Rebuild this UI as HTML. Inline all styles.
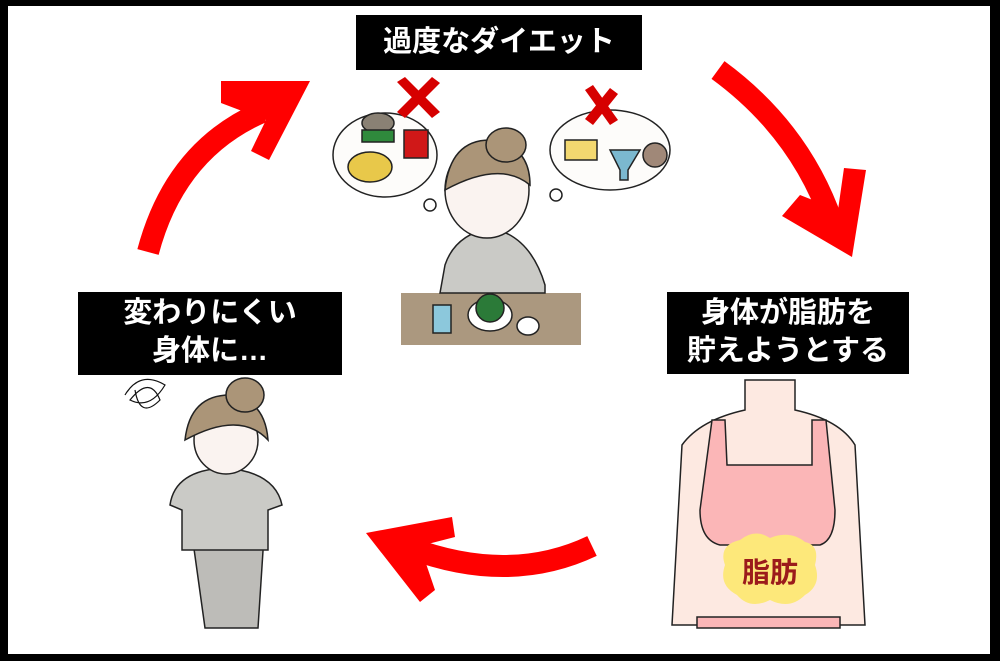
<!DOCTYPE html>
<html><head><meta charset="utf-8"><style>
html,body{margin:0;padding:0;background:#000}
.w{position:relative;width:1000px;height:661px;overflow:hidden}
.lb{position:absolute;background:#000;color:#fff;font-family:"Liberation Sans","Noto Sans CJK JP",sans-serif;font-weight:bold;font-size:29px;text-align:center;line-height:38px}
</style></head><body><div class="w">
<svg width="1000" height="661" style="position:absolute;left:0;top:0">
<rect x="0" y="0" width="1000" height="661" fill="#000"/>
<rect x="8" y="6" width="982" height="648" fill="#fff"/>
<!-- arrows -->
<g fill="#f00" stroke="none">
<path d="M148,252 Q175,150 262,112" stroke="#f00" stroke-width="22" fill="none"/>
<polygon points="221,81 310,81 269,160 251,151 266,120 221,103"/>
<path d="M718,70 Q800,130 832,222" stroke="#f00" stroke-width="22" fill="none"/>
<polygon points="782,216 852,257 866,170 844,168 838,210 800,195"/>
<path d="M592,546 Q510,585 410,548" stroke="#f00" stroke-width="22" fill="none"/>
<polygon points="366,533 452,517 455,537 420,546 435,590 420,602"/>
</g>
<!-- central scene -->
<g stroke="#222" stroke-width="1.5">
<ellipse cx="385" cy="155" rx="52" ry="42" fill="#fdfcfa"/>
<ellipse cx="610" cy="150" rx="60" ry="40" fill="#fdfcfa"/>
<circle cx="430" cy="205" r="6" fill="#fff"/><circle cx="556" cy="195" r="6" fill="#fff"/>
<ellipse cx="378" cy="123" rx="16" ry="10" fill="#8a8174"/>
<rect x="362" y="130" width="32" height="12" fill="#2f8a3c"/>
<ellipse cx="370" cy="167" rx="22" ry="15" fill="#e8c84a"/>
<rect x="404" y="130" width="24" height="28" fill="#d01818"/>
<rect x="565" y="140" width="32" height="20" fill="#f3d870"/>
<path d="M610,150 L640,150 L628,170 L628,180 L620,180 L620,170Z" fill="#7bb8cf"/>
<circle cx="655" cy="155" r="12" fill="#a08878"/>
<rect x="401" y="293" width="180" height="52" fill="#ab987f" stroke="none"/>
<path d="M445,265 Q455,235 490,228 Q530,235 545,285 L545,293 L440,293Z" fill="#cacac6"/>
<ellipse cx="487" cy="190" rx="42" ry="48" fill="#faf3f0"/>
<path d="M445,190 Q450,140 490,140 Q530,145 530,185 Q500,160 445,190Z" fill="#ab9578"/>
<ellipse cx="506" cy="145" rx="20" ry="17" fill="#ab9578"/>
<ellipse cx="490" cy="315" rx="22" ry="16" fill="#fff"/>
<circle cx="490" cy="308" r="14" fill="#2b7a38"/>
<rect x="433" y="305" width="18" height="28" fill="#8cc8dc"/>
<ellipse cx="528" cy="326" rx="11" ry="9" fill="#fff"/>
</g>
<g fill="#d60000">
<polygon points="397,82 405,77 440,112 432,118"/><polygon points="432,77 440,83 405,118 397,112"/>
<polygon points="585,90 593,85 618,120 610,125"/><polygon points="610,88 618,94 593,125 585,119"/>
</g>
<!-- left figure -->
<g stroke="#222" stroke-width="1.5">
<path d="M205,628 L190,520 L265,520 L258,628Z" fill="#bdbcb8"/>
<path d="M170,505 Q175,470 225,468 Q275,472 282,505 L268,510 L268,550 L182,550 L182,510Z" fill="#cacac6"/>
<ellipse cx="226" cy="440" rx="32" ry="34" fill="#faf3f0"/>
<path d="M185,440 Q190,395 230,395 Q265,400 268,440 Q240,410 185,440Z" fill="#ab9578"/>
<ellipse cx="245" cy="395" rx="19" ry="17" fill="#ab9578"/>
</g>
<g stroke="#111" fill="none" stroke-width="1.2"><path d="M125,395 Q140,370 165,385 Q150,410 130,400 Q150,375 160,400 Q140,420 135,390"/></g>
<!-- right torso -->
<g stroke="#222" stroke-width="1.5">
<path d="M745,380 L745,410 Q700,420 682,445 L672,625 L865,625 L855,445 Q840,420 795,410 L795,380Z" fill="#fde9e1"/>
<path d="M712,420 L725,420 L727,465 L812,465 L812,420 L826,420 L835,510 Q835,540 820,545 L720,545 Q700,540 700,510Z" fill="#fbb6b7"/>
<path d="M697,617 L840,617 L840,628 L697,628Z" fill="#fbb6b7"/>
</g>
<path d="M770,538 Q790,530 805,542 Q820,545 815,565 Q822,585 805,595 Q790,610 770,600 Q750,610 737,595 Q718,585 725,565 Q718,545 740,540 Q755,528 770,538Z" fill="#fde87a"/>
<text x="770" y="582" font-family="Liberation Sans,Noto Sans CJK JP,sans-serif" font-weight="bold" font-size="28" fill="#9b1b1b" text-anchor="middle">脂肪</text>
</svg>
<div class="lb" style="left:356px;top:15px;width:286px;height:55px;line-height:55px">過度なダイエット</div>
<div class="lb" style="left:667px;top:292px;width:242px;height:80px;padding-top:2px">身体が脂肪を<br>貯えようとする</div>
<div class="lb" style="left:78px;top:292px;width:264px;height:81px;padding-top:2px">変わりにくい<br>身体に…</div>
</div></body></html>
